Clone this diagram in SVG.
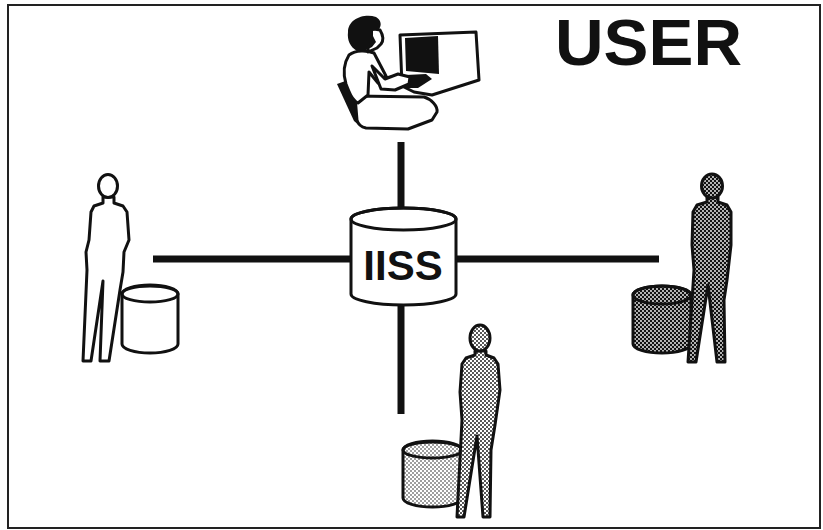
<svg xmlns="http://www.w3.org/2000/svg" width="823" height="530" viewBox="0 0 823 530">
  <defs>
    <!-- halftone fills -->
    <pattern id="dotsDark" width="4" height="4" patternUnits="userSpaceOnUse">
      <rect width="4" height="4" fill="#111"/>
      <circle cx="1" cy="1" r="0.9" fill="#fff"/>
      <circle cx="3" cy="3" r="0.9" fill="#fff"/>
    </pattern>
    <pattern id="dotsLight" width="4" height="4" patternUnits="userSpaceOnUse">
      <rect width="4" height="4" fill="#fff"/>
      <circle cx="1" cy="1" r="0.95" fill="#111"/>
      <circle cx="3" cy="3" r="0.95" fill="#111"/>
    </pattern>
    <pattern id="dotsPale" width="4" height="4" patternUnits="userSpaceOnUse">
      <rect width="4" height="4" fill="#fff"/>
      <circle cx="1" cy="1" r="0.8" fill="#222"/>
      <circle cx="3" cy="3" r="0.8" fill="#222"/>
    </pattern>
  </defs>
  <style>
    .line { stroke: #111; stroke-width: 7; fill: none; }
    .ol { stroke: #111; stroke-width: 3; stroke-linejoin: round; }
    .blk { fill: #111; }
    .title { font-family: "Liberation Sans", Arial, sans-serif; font-weight: bold; fill: #111; }
  </style>

  <rect x="8" y="5" width="812" height="523" fill="#fff" stroke="#222" stroke-width="2"/>

  <!-- connectors -->
  <g id="connectors">
    <line class="line" x1="153" y1="259" x2="352" y2="259"/>
    <line class="line" x1="455" y1="259" x2="659" y2="259"/>
    <line class="line" x1="401" y1="142" x2="401" y2="210"/>
    <line class="line" x1="401" y1="300" x2="401" y2="414"/>
  </g>

  <!-- central store -->
  <g id="iiss">
    <path class="ol" fill="#fff" d="M351,219 L351,294 A52.5,11 0 0 0 456,294 L456,219 A52.5,11 0 0 0 351,219 Z"/>
    <ellipse class="ol" fill="none" cx="403.5" cy="219" rx="52.5" ry="11"/>
    <text class="title" x="403" y="280" font-size="42" text-anchor="middle">IISS</text>
  </g>

  <text id="label-user" class="title" x="555" y="65" font-size="64" textLength="187" lengthAdjust="spacingAndGlyphs">USER</text>

  <!-- seated user at terminal -->
  <g id="user">
    <!-- monitor housing -->
    <path class="ol" fill="#fff" d="M400,35 L476,32 L479,80 L432,95 L414,92 L402,86 Z"/>
    <path class="blk" d="M405,38 L438,36 L439,74 L406,71 Z"/>
    <!-- chair -->
    <path class="blk" d="M337,84 L351,79 L366,122 L360,126 L354,121 Z"/>
    <!-- legs / lap -->
    <path class="ol" fill="#fff" d="M355,96 L424,97 C431,99 438,106 437,112 L432,120 L408,129 L366,128 C361,127 358,124 357,120 Z"/>
    <!-- torso -->
    <path class="ol" fill="#fff" d="M349,55 C356,50 366,50 374,53 L386,76 L378,83 L369,72 L368,95 L358,103 C352,100 349,92 346,84 C343,74 344,63 349,55 Z"/>
    <!-- keyboard -->
    <path class="blk" d="M386,76 L426,74 L432,79 L418,88 L394,88 Z"/>
    <!-- forearm and hands -->
    <path class="ol" fill="#fff" d="M372,66 L385,79 L398,74 L410,77 L409,84 L395,90 L381,89 Z"/>
    <!-- head -->
    <path class="ol" fill="#fff" d="M368,28 L380,30 C383,35 384,40 381,44 L377,48 L368,52 Z"/>
    <path class="blk" d="M348,32 C348,19 364,13 376,17 C381,20 382,25 379,29 L373,31 L373,36 L376,42 L372,47 L366,50 L357,51 C350,47 347,40 348,32 Z"/>
  </g>

  <!-- plain user with own store -->
  <g id="user-left">
    <path class="ol" fill="#fff" d="M122,294 L122,344 A28,9 0 0 0 178,344 L178,294 A28,9 0 0 0 122,294 Z"/>
    <ellipse class="ol" fill="none" cx="150" cy="294" rx="28" ry="8"/>
    <path class="ol" fill="#fff" d="M103,197 L103,203 L94,206 L91,212 L89,240 L86,252 L87,270 L83,361 L91,361 L103,281 L100,361 L109,361 L120,290 L123,272 L124,252 L129,240 L127,212 L123,206 L114,203 L114,197 Z"/>
    <ellipse class="ol" fill="#fff" cx="108" cy="186" rx="9.5" ry="11.5"/>
  </g>

  <!-- user with dark store -->
  <g id="user-right">
    <path class="ol" fill="url(#dotsDark)" d="M633,295 L633,344 A29,9 0 0 0 691,344 L691,295 A29,9 0 0 0 633,295 Z"/>
    <ellipse class="ol" fill="none" cx="662" cy="295" rx="29" ry="9"/>
    <path class="ol" fill="url(#dotsDark)" d="M707,197 L707,202 L697,205 L693,212 L692,245 L694,270 L688,362 L696,362 L708,285 L717,362 L725,362 L724,300 L727,280 L731,245 L731,212 L727,205 L718,202 L718,197 Z"/>
    <ellipse class="ol" fill="url(#dotsDark)" cx="712" cy="186" rx="10.5" ry="12"/>
  </g>

  <!-- user with dotted store -->
  <g id="user-bottom">
    <path class="ol" fill="url(#dotsPale)" d="M403,450 L403,498 A29.5,9 0 0 0 462,498 L462,450 A29.5,9 0 0 0 403,450 Z"/>
    <ellipse class="ol" fill="none" cx="432.5" cy="450" rx="29.5" ry="8"/>
    <path class="ol" fill="url(#dotsLight)" d="M475,351 L475,355 L466,358 L462,364 L460,392 L462,420 L457,517 L464,517 L477,436 L483,517 L490,517 L491,450 L495,425 L500,390 L498,364 L494,358 L486,355 L486,351 Z"/>
    <ellipse class="ol" fill="url(#dotsLight)" cx="480" cy="338" rx="10" ry="13"/>
  </g>
</svg>
